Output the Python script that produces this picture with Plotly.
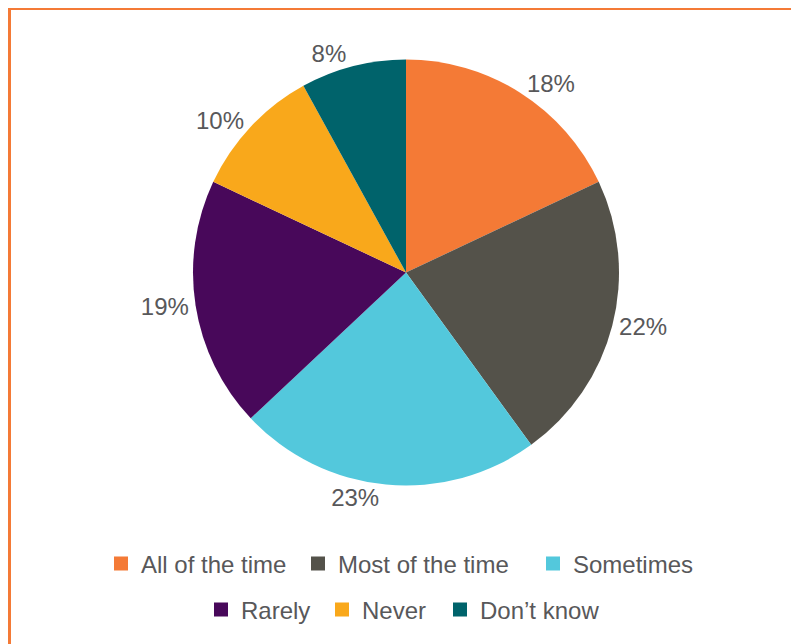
import plotly.graph_objects as go

# ---- data ----
categories = ["All of the time", "Most of the time", "Sometimes", "Rarely", "Never", "Don\u2019t know"]
shares = [18, 22, 23, 19, 10, 8]
colors = ["#F47A36", "#54524A", "#53C8DC", "#48085A", "#F9A81B", "#00636B"]

W, H = 799, 644
OFF = 8  # page body margin offset
TEXT = "#58585A"
FONT = "Liberation Sans, Arial, Helvetica, sans-serif"

# pie geometry (screen pixels)
cx, cy, r = 406 - OFF, 272.5 - OFF, 213

fig = go.Figure()
fig.add_trace(go.Pie(
    labels=categories, values=shares, sort=False, direction="clockwise", rotation=0,
    marker=dict(colors=colors, line=dict(width=0)),
    texttemplate="%{value}%", textposition="outside",
    outsidetextfont=dict(family=FONT, size=24, color=TEXT),
    showlegend=False, hoverinfo="label+percent",
    domain=dict(x=[(cx - r) / W, (cx + r) / W], y=[1 - (cy + r) / H, 1 - (cy - r) / H]),
))

# legend entries (one legend per entry to reproduce centred rows)
legend_x = [101, 298, 533, 201, 322, 440]
legend_y = [564, 564, 564, 610, 610, 610]
legend_layouts = {}
for i, (name, col) in enumerate(zip(categories, colors)):
    key = "legend" if i == 0 else f"legend{i+1}"
    fig.add_trace(go.Scatter(
        x=[None], y=[None], mode="markers", name=name,
        marker=dict(symbol="square", size=14, color=col),
        legend=key, showlegend=True,
    ))
    legend_layouts[key] = dict(
        x=(legend_x[i] - OFF) / W, xanchor="left",
        y=1 - (legend_y[i] - OFF) / H, yanchor="middle",
        orientation="h", bgcolor="rgba(0,0,0,0)", borderwidth=0,
        font=dict(family=FONT, size=24, color=TEXT),
    )

fig.update_layout(
    width=W, height=H,
    margin=dict(l=0, r=0, t=0, b=0),
    paper_bgcolor="white", plot_bgcolor="white",
    xaxis=dict(visible=False), yaxis=dict(visible=False),
    font=dict(family=FONT, color=TEXT),
    shapes=[
        dict(type="line", xref="paper", yref="paper",
             x0=(9.5 - OFF) / W, x1=1.01, y0=1 - (8.5 - OFF) / H, y1=1 - (8.5 - OFF) / H,
             line=dict(color="#F47A36", width=3)),
        dict(type="line", xref="paper", yref="paper",
             x0=(9.5 - OFF) / W, x1=(9.5 - OFF) / W, y0=-0.01, y1=1 - (7 - OFF) / H,
             line=dict(color="#F47A36", width=3)),
    ],
    **legend_layouts,
)

fig.write_html("out.html")
